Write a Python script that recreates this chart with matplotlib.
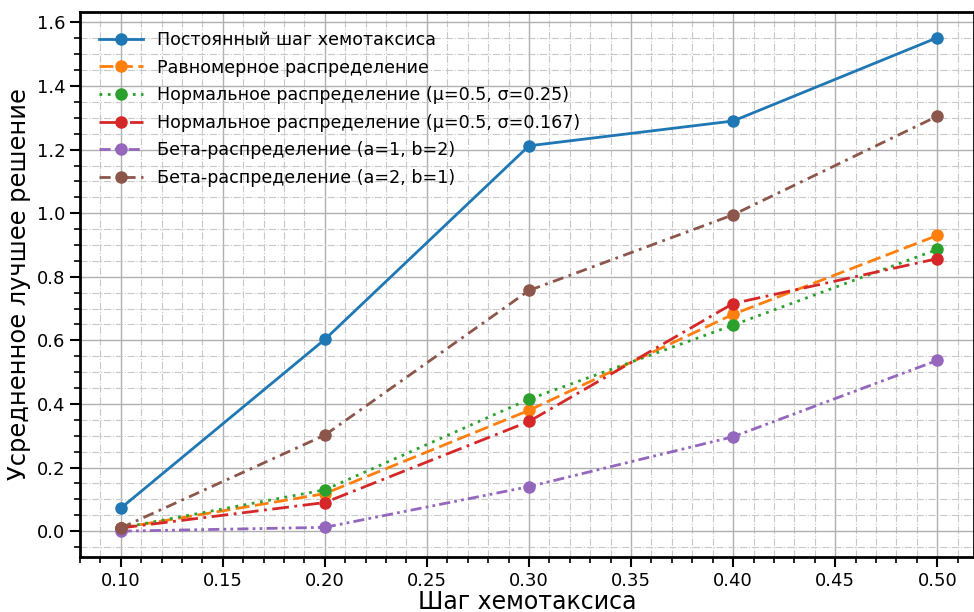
import matplotlib
matplotlib.use("Agg")
import matplotlib.pyplot as plt
from matplotlib.ticker import MultipleLocator

steps = [0.1, 0.2, 0.3, 0.4, 0.5]

labels = [
    "Постоянный шаг хемотаксиса",
    "Равномерное распределение",
    "Нормальное распределение (μ=0.5, σ=0.25)",
    "Нормальное распределение (μ=0.5, σ=0.167)",
    "Бета-распределение (a=1, b=2)",
    "Бета-распределение (a=2, b=1)",
]

const_step = [0.072, 0.603, 1.212, 1.290, 1.552]
uniform = [0.010, 0.118, 0.380, 0.682, 0.930]
normal_025 = [0.010, 0.130, 0.415, 0.648, 0.886]
normal_0167 = [0.010, 0.090, 0.345, 0.716, 0.857]
beta_12 = [0.000, 0.012, 0.140, 0.297, 0.537]
beta_21 = [0.010, 0.302, 0.757, 0.995, 1.305]

series = [const_step, uniform, normal_025, normal_0167, beta_12, beta_21]
colors = ["#1f77b4", "#ff7f0e", "#2ca02c", "#d62728", "#9467bd", "#8c564b"]
styles = ["-", (0, (5, 2)), (0, (1, 2)), (0, (6, 2, 1, 2)),
          (0, (4, 1.5, 1, 1.5, 1, 1.5)), (0, (4, 2, 1, 2))]

fig, ax = plt.subplots(figsize=(9.74, 6.12), dpi=100)
fig.subplots_adjust(left=0.082, right=1.0, top=0.981, bottom=0.09)

for vals, lab, c, ls in zip(series, labels, colors, styles):
    ax.plot(steps, vals, linestyle=ls, color=c, marker="o", markersize=8,
            linewidth=2, label=lab)

ax.set_xlim(0.08, 0.518)
ax.set_ylim(-0.081, 1.634)
ax.xaxis.set_major_locator(MultipleLocator(0.05))
ax.xaxis.set_minor_locator(MultipleLocator(0.01))
ax.yaxis.set_major_locator(MultipleLocator(0.2))
ax.yaxis.set_minor_locator(MultipleLocator(0.05))

ax.grid(which="major", color="#b0b0b0", linestyle="-", linewidth=1.0)
ax.grid(which="minor", color="#c8c8c8", linestyle="-.", linewidth=0.8)
ax.set_axisbelow(True)

ax.tick_params(which="major", length=7, width=1.5, labelsize=13)
ax.tick_params(which="minor", length=4, width=1.2)
for sp in ax.spines.values():
    sp.set_linewidth(2)

ax.set_xlabel("Шаг хемотаксиса", fontsize=17, labelpad=0)
ax.set_ylabel("Усредненное лучшее решение", fontsize=17.4)

ax.legend(loc="upper left", frameon=False, fontsize=12.6, handlelength=2.5,
          borderaxespad=0.7, labelspacing=0.55)

fig.savefig("out.png", dpi=100)
